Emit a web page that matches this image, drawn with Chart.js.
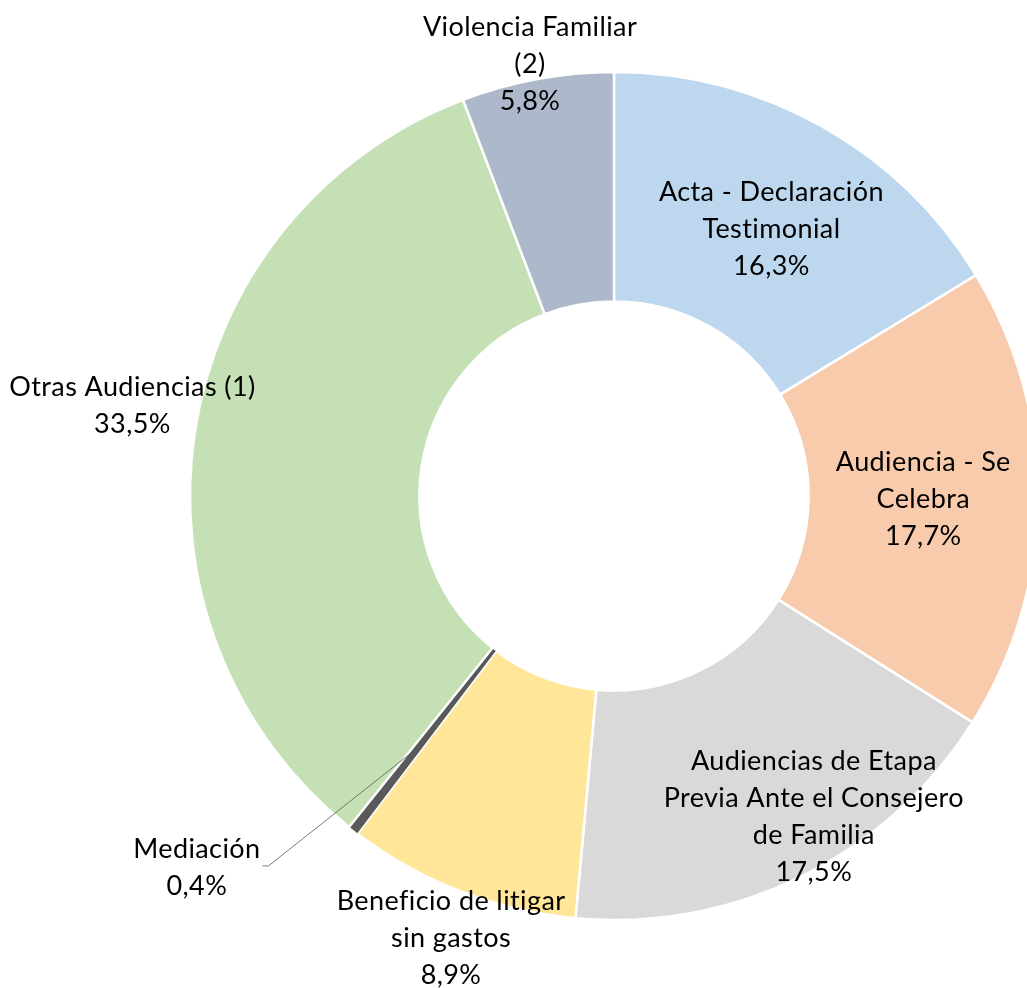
<!DOCTYPE html>
<html>
<head>
<meta charset="utf-8">
<script src="https://cdn.jsdelivr.net/npm/chart.js@4.4.1/dist/chart.umd.min.js"></script>
<style>
  html, body { margin: 0; padding: 0; background: #fff; overflow: hidden; }
  #wrap { position: absolute; left: 0; top: 0; width: 1100px; height: 988px; }
</style>
</head>
<body>
<div id="wrap"><canvas id="chart"></canvas></div>
<script>
// -----------------------
// Data
// -----------------------
const categories = [
  ['Acta - Declaración', 'Testimonial'],
  ['Audiencia - Se', 'Celebra'],
  ['Audiencias de Etapa', 'Previa Ante el Consejero', 'de Familia'],
  ['Beneficio de litigar', 'sin gastos'],
  ['Mediación'],
  ['Otras Audiencias (1)'],
  ['Violencia Familiar', '(2)']
];
const shares = [16.3, 17.7, 17.5, 8.9, 0.4, 33.5, 5.8];
const colors = ['#BDD7EE', '#F8CBAD', '#D9D9D9', '#FFE699', '#595959', '#C5E0B4', '#ADB9CA'];

// label shift from the slice centroid (px), Excel-style manual placement
const labelShift = [[6, 3], [0, 1], [63, 43], [-51, 154], [-227, 128], [-176, -42], [-28, -128]];
const leaderFor = [4]; // Mediación has a leader line

const FONT = '27px Lato';
const LINE_H = 37;

const fmt = v => v.toFixed(1).replace('.', ',') + '%';

// -----------------------
// Label plugin
// -----------------------
const sliceLabels = {
  id: 'sliceLabels',
  afterDatasetsDraw(chart) {
    const ctx = chart.ctx;
    const meta = chart.getDatasetMeta(0);
    ctx.save();
    ctx.font = FONT;
    ctx.letterSpacing = '0.4px'; // also stops the fi / ti ligatures
    ctx.fillStyle = '#000';
    ctx.textAlign = 'center';
    ctx.textBaseline = 'middle';
    meta.data.forEach((arc, i) => {
      const c = arc.tooltipPosition(true);
      const lx = c.x + labelShift[i][0];
      const ly = c.y + labelShift[i][1];
      const lines = [...categories[i], fmt(shares[i])];
      const top = ly - (lines.length - 1) * LINE_H / 2;
      if (leaderFor.includes(i)) {
        const w = Math.max(...lines.map(t => ctx.measureText(t).width));
        const ex = lx + w / 2 + 2;
        const ey = ly - 2;
        ctx.strokeStyle = '#595959';
        ctx.lineWidth = 0.8;
        ctx.beginPath();
        ctx.moveTo(c.x, c.y + 3);
        ctx.lineTo(ex + 6, ey);
        ctx.lineTo(ex, ey);
        ctx.stroke();
      }
      lines.forEach((t, k) => ctx.fillText(t, lx, top + k * LINE_H));
    });
    ctx.restore();
  }
};

// -----------------------
// Chart
// -----------------------
new Chart(document.getElementById('chart'), {
  type: 'doughnut',
  data: {
    labels: categories,
    datasets: [{
      data: shares,
      backgroundColor: colors,
      borderColor: '#ffffff',
      borderWidth: [2.5, 2.5, 2.5, 2.5, 1, 2.5, 2.5]
    }]
  },
  options: {
    responsive: true,
    maintainAspectRatio: false,
    animation: false,
    radius: 424,
    cutout: 194,
    layout: { padding: { left: 190, right: 62, top: 72, bottom: 68 } },
    plugins: { legend: { display: false }, tooltip: { enabled: false } }
  },
  plugins: [sliceLabels]
});
</script>
</body>
</html>
